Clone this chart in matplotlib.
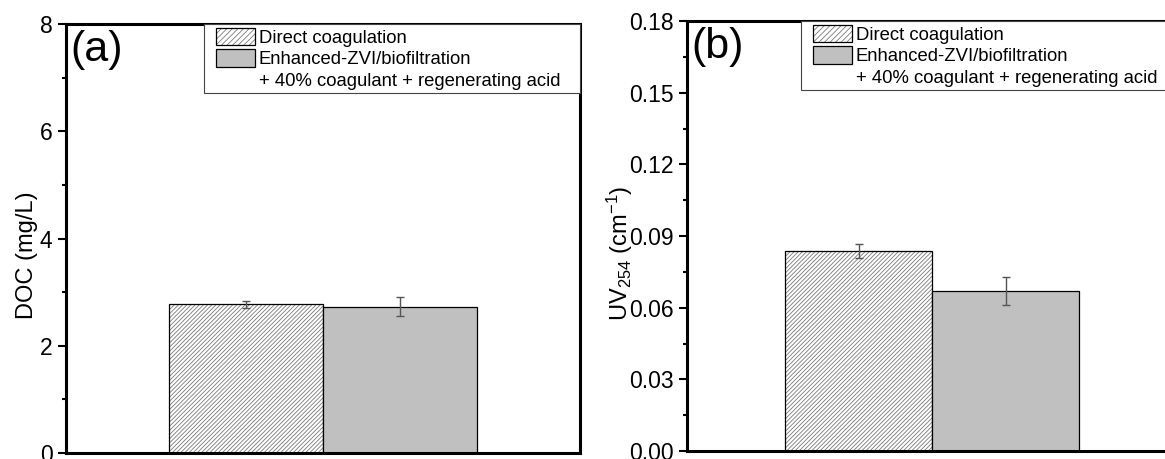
import numpy as np
import matplotlib
matplotlib.use("Agg")
import matplotlib.pyplot as plt
import matplotlib.patches as mpatches
from matplotlib.legend_handler import HandlerPatch
from matplotlib.ticker import MultipleLocator, FormatStrFormatter

plt.rcParams['font.family'] = ['Liberation Sans', 'DejaVu Sans']
plt.rcParams['mathtext.fontset'] = 'custom'
plt.rcParams['mathtext.rm'] = 'Liberation Sans'
plt.rcParams['mathtext.it'] = 'Liberation Sans'
plt.rcParams['mathtext.bf'] = 'Liberation Sans'
plt.rcParams['hatch.linewidth'] = 0.6

# data
labels = ['Direct coagulation', 'Enhanced-ZVI/biofiltration',
          '+ 40% coagulant + regenerating acid']
doc_mean = [2.77, 2.73]
doc_err = [0.06, 0.17]
uv_mean = [0.0837, 0.0671]
uv_err = [0.0028, 0.0058]

xpos = np.array([0.7, 1.3])
width = 0.6
hatch = '////////'


def inset_patch(legend, orig_handle, xdescent, ydescent, width, height, fontsize):
    # Origin-like legend: leave some room left of the swatch
    pad = 0.47 * fontsize
    return mpatches.Rectangle((-xdescent + pad, -ydescent), width - pad, height)


def draw_panel(ax, means, errs, ymax, ystep, ylabel, tag, leg_x, lab_x):
    ax.bar(xpos[0], means[0], width, color='white', edgecolor='#7a7a7a',
           hatch=hatch, linewidth=0)
    ax.bar(xpos[0], means[0], width, fill=False, edgecolor='black', linewidth=0.9)
    ax.bar(xpos[1], means[1], width, color='#c0c0c0', edgecolor='black',
           linewidth=0.9)
    ax.errorbar(xpos, means, yerr=errs, fmt='none', ecolor='#555555',
                elinewidth=1.0, capsize=3, capthick=1.0)

    ax.set_xlim(0, 2)
    ax.set_ylim(0, ymax)
    ax.yaxis.set_major_locator(MultipleLocator(ystep))
    ax.yaxis.set_minor_locator(MultipleLocator(ystep / 2))
    ax.set_xticks([])
    ax.tick_params(axis='y', which='major', direction='out', length=5.8,
                   width=1.5, labelsize=16.5, pad=4)
    ax.tick_params(axis='y', which='minor', direction='out', length=2.9,
                   width=1.5)
    for s in ax.spines.values():
        s.set_linewidth(2.2)

    ax.set_ylabel(ylabel, fontsize=17)
    ax.yaxis.set_label_coords(lab_x, 0.46)
    ax.text(0.008, 0.985, tag, transform=ax.transAxes, fontsize=31,
            ha='left', va='top')

    h_hatch = mpatches.Patch(facecolor='white', edgecolor='#7a7a7a',
                             hatch='//////', linewidth=0)
    h_edge = mpatches.Patch(facecolor='none', edgecolor='black', linewidth=0.9)
    h_gray = mpatches.Patch(facecolor='#c0c0c0', edgecolor='black', linewidth=0.9)
    h_none = mpatches.Patch(facecolor='none', edgecolor='none')
    leg = ax.legend([(h_hatch, h_edge), h_gray, h_none], labels,
                    loc='upper right', bbox_to_anchor=(leg_x, 0, 1 - leg_x, 1),
                    mode='expand', borderaxespad=0, fontsize=13.3,
                    handlelength=2.58, handleheight=1.1, handletextpad=0.17,
                    labelspacing=0.12, borderpad=0.2, fancybox=False,
                    framealpha=1, edgecolor='#444444',
                    handler_map={mpatches.Patch: HandlerPatch(patch_func=inset_patch)})
    leg.get_frame().set_linewidth(0.8)


fig = plt.figure(figsize=(11.65, 4.59), dpi=100)
ax1 = fig.add_axes([66 / 1165, 6 / 459, 514 / 1165, 429 / 459])
ax2 = fig.add_axes([687 / 1165, 8 / 459, 490 / 1165, 430 / 459])

draw_panel(ax1, doc_mean, doc_err, 8, 2, 'DOC (mg/L)', '(a)', 0.2685, -0.055)
draw_panel(ax2, uv_mean, uv_err, 0.18, 0.03, 'UV$_{254}$ (cm$^{-1}$)', '(b)',
           0.2327, -0.106)
ax2.yaxis.set_major_formatter(FormatStrFormatter('%.2f'))

fig.savefig('out.png', dpi=100)
